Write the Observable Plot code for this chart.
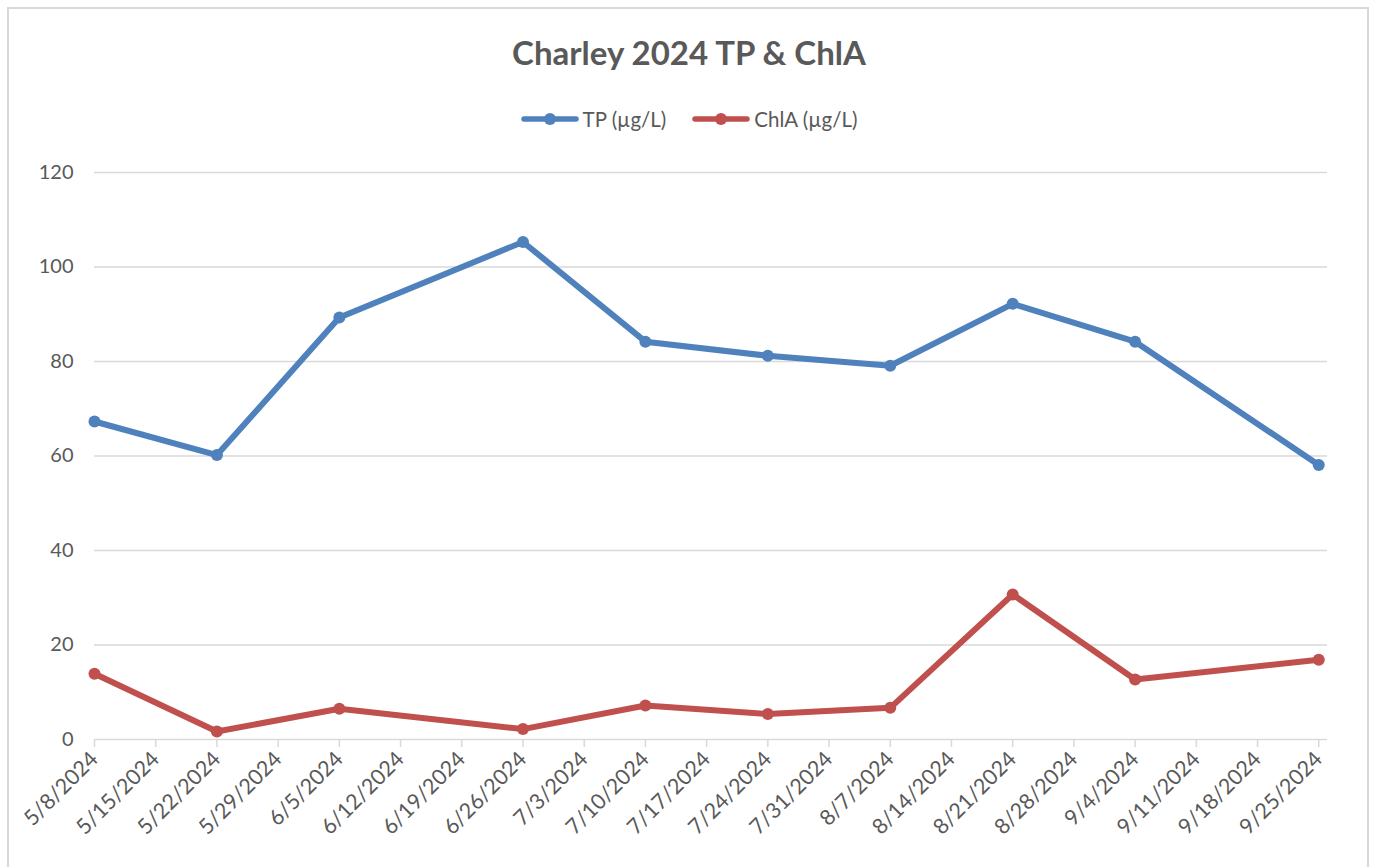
<!DOCTYPE html>
<html>
<head>
<meta charset="utf-8">
<script src="https://cdn.jsdelivr.net/npm/d3@7"></script>
<script src="https://cdn.jsdelivr.net/npm/@observablehq/plot@0.6"></script>
<style>
  html, body { margin: 0; padding: 0; background: #fff; overflow: hidden; }
  #page { position: relative; width: 1374px; height: 867px; font-family: Lato, "Open Sans", sans-serif; color: #595959; }
  #frame { position: absolute; left: 7px; top: 7px; width: 1362px; height: 900px; border: 2px solid #d9d9d9; box-sizing: border-box; }
  #title { position: absolute; left: 0; width: 1378px; top: 30px; text-align: center; font-weight: 700; font-size: 33px; line-height: 44px; color: #595959; }
  #legend { position: absolute; left: 0; width: 1378px; top: 105px; display: flex; justify-content: center; gap: 26px; font-size: 20.5px; line-height: 28px; }
  .item { display: flex; align-items: center; gap: 4px; }
  #chart { position: absolute; left: 0; top: 140px; }
</style>
</head>
<body>
<div id="page">
  <div id="frame"></div>
  <div id="title"></div>
  <div id="legend"></div>
  <div id="chart"></div>
</div>
<script>
const titleText = "Charley 2024 TP & ChlA";
const seriesNames = ["TP (µg/L)", "ChlA (µg/L)"];
const seriesColors = ["#4f81bd", "#c0504d"];
const dates = ["2024-05-08","2024-05-22","2024-06-05","2024-06-26","2024-07-10","2024-07-24","2024-08-07","2024-08-21","2024-09-04","2024-09-25"];
const tp = [67.3, 60.2, 89.3, 105.3, 84.2, 81.2, 79.1, 92.2, 84.2, 58.1];
const chla = [13.9, 1.7, 6.5, 2.2, 7.2, 5.4, 6.7, 30.7, 12.7, 16.9];
const xTickDates = ["2024-05-08","2024-05-15","2024-05-22","2024-05-29","2024-06-05","2024-06-12","2024-06-19","2024-06-26","2024-07-03","2024-07-10","2024-07-17","2024-07-24","2024-07-31","2024-08-07","2024-08-14","2024-08-21","2024-08-28","2024-09-04","2024-09-11","2024-09-18","2024-09-25"];
const yTicks = [0, 20, 40, 60, 80, 100, 120];

const parse = d3.utcParse("%Y-%m-%d");
const fmt = d => `${d.getUTCMonth() + 1}/${d.getUTCDate()}/${d.getUTCFullYear()}`;

const rows = [];
dates.forEach((d, i) => {
  rows.push({date: parse(d), value: tp[i], series: seriesNames[0]});
});
dates.forEach((d, i) => {
  rows.push({date: parse(d), value: chla[i], series: seriesNames[1]});
});

document.getElementById("title").textContent = titleText;

const legend = document.getElementById("legend");
seriesNames.forEach((name, i) => {
  const item = document.createElement("div");
  item.className = "item";
  item.innerHTML = `<svg width="58" height="14"><line x1="3" x2="55" y1="7" y2="7" stroke="${seriesColors[i]}" stroke-width="5.5" stroke-linecap="round"/><circle cx="29" cy="7" r="6" fill="${seriesColors[i]}"/></svg><span>${name}</span>`;
  legend.appendChild(item);
});

const xDomain = [parse("2024-05-08"), d3.utcDay.offset(parse("2024-09-25"), 1)];

const chart = Plot.plot({
  width: 1374,
  height: 727,
  marginTop: 32,
  marginBottom: 128,
  marginLeft: 94,
  marginRight: 47,
  style: {fontFamily: "Lato, 'Open Sans', sans-serif", color: "#595959", background: "transparent"},
  x: {type: "utc", domain: xDomain},
  y: {domain: [0, 120]},
  color: {domain: seriesNames, range: seriesColors},
  marks: [
    Plot.gridY(yTicks.filter(t => t > 0), {stroke: "#d9d9d9", strokeOpacity: 1, strokeWidth: 1.5}),
    Plot.ruleY([0], {stroke: "#d9d9d9", strokeWidth: 1.5}),
    Plot.axisY(yTicks, {tickSize: 0, tickPadding: 21, fontSize: 20, fill: "#595959", label: null}),
    Plot.axisX(xTickDates.map(parse), {tickSize: 8, stroke: "#d9d9d9", strokeWidth: 1.5, fill: "#595959", tickRotate: -45, tickPadding: 8, fontSize: 21.5, tickFormat: fmt, label: null}),
    Plot.line(rows, {x: "date", y: "value", z: "series", stroke: "series", strokeWidth: 6, strokeLinejoin: "round"}),
    Plot.dot(rows, {x: "date", y: "value", fill: "series", r: 6, stroke: null})
  ]
});
document.getElementById("chart").appendChild(chart);
</script>
</body>
</html>
